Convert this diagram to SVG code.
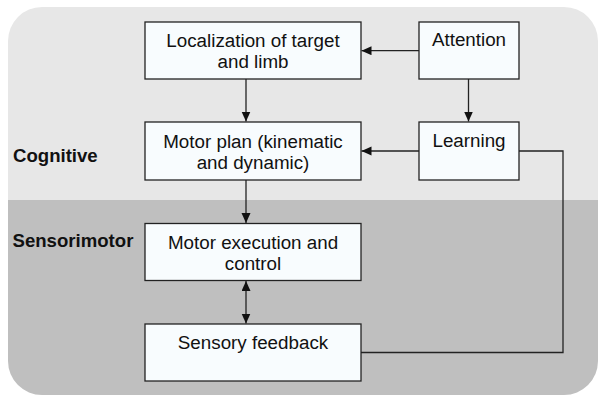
<svg xmlns="http://www.w3.org/2000/svg" width="600" height="397" viewBox="0 0 600 397">
  <defs>
    <style>
      .box { fill: #f8fcfe; stroke: #222; stroke-width: 1.3; }
      .lbl { font-family: "Liberation Sans", Arial, Helvetica, sans-serif; font-size: 18.8px; fill: #111; text-anchor: middle; }
      .band { font-family: "Liberation Sans", Arial, Helvetica, sans-serif; font-size: 18.6px; font-weight: bold; fill: #111; }
      .wire { fill: none; stroke: #222; stroke-width: 1.3; }
    </style>
    <clipPath id="panel">
      <rect x="8" y="7" width="590" height="388" rx="34" ry="34"/>
    </clipPath>
    <marker id="head" markerUnits="userSpaceOnUse" markerWidth="12" markerHeight="10" refX="10" refY="4.5" orient="auto-start-reverse">
      <path d="M0,0 L10,4.5 L0,9 Z" fill="#111"/>
    </marker>
  </defs>

  <!-- background panel with two bands -->
  <g id="background" clip-path="url(#panel)">
    <rect x="0" y="0" width="600" height="200" fill="#e7e7e7"/>
    <rect x="0" y="200" width="600" height="197" fill="#bfbfbf"/>
  </g>

  <text class="band" x="13" y="161.5">Cognitive</text>
  <text class="band" x="12.5" y="246.5">Sensorimotor</text>

  <!-- connectors -->
  <g id="connectors">
    <line class="wire" x1="419" y1="50.7" x2="361.5" y2="50.7" marker-end="url(#head)"/>
    <line class="wire" x1="419" y1="151" x2="361.5" y2="151" marker-end="url(#head)"/>
    <line class="wire" x1="468.5" y1="79" x2="468.5" y2="121.5" marker-end="url(#head)"/>
    <line class="wire" x1="246" y1="79" x2="246" y2="121.5" marker-end="url(#head)"/>
    <line class="wire" x1="246" y1="180" x2="246" y2="223" marker-end="url(#head)"/>
    <line class="wire" x1="246" y1="281" x2="246" y2="323.5" marker-start="url(#head)" marker-end="url(#head)"/>
    <polyline class="wire" points="519,151 563,151 563,352.5 361,352.5"/>
  </g>

  <g id="localization">
    <rect class="box" x="145" y="22" width="216" height="57"/>
    <text class="lbl" x="253" y="46.5">Localization of target</text>
    <text class="lbl" x="253" y="68">and limb</text>
  </g>

  <g id="attention">
    <rect class="box" x="419" y="22" width="100" height="57"/>
    <text class="lbl" x="469" y="46">Attention</text>
  </g>

  <g id="motor-plan">
    <rect class="box" x="145" y="122" width="216" height="58"/>
    <text class="lbl" x="253" y="147.5">Motor plan (kinematic</text>
    <text class="lbl" x="253" y="168.5">and dynamic)</text>
  </g>

  <g id="learning">
    <rect class="box" x="419" y="122" width="100" height="58"/>
    <text class="lbl" x="469" y="147">Learning</text>
  </g>

  <g id="motor-execution">
    <rect class="box" x="145" y="223.5" width="216" height="57"/>
    <text class="lbl" x="253" y="248.5">Motor execution and</text>
    <text class="lbl" x="253" y="270">control</text>
  </g>

  <g id="sensory-feedback">
    <rect class="box" x="145" y="324" width="216" height="57"/>
    <text class="lbl" x="253" y="348.5">Sensory feedback</text>
  </g>
</svg>
